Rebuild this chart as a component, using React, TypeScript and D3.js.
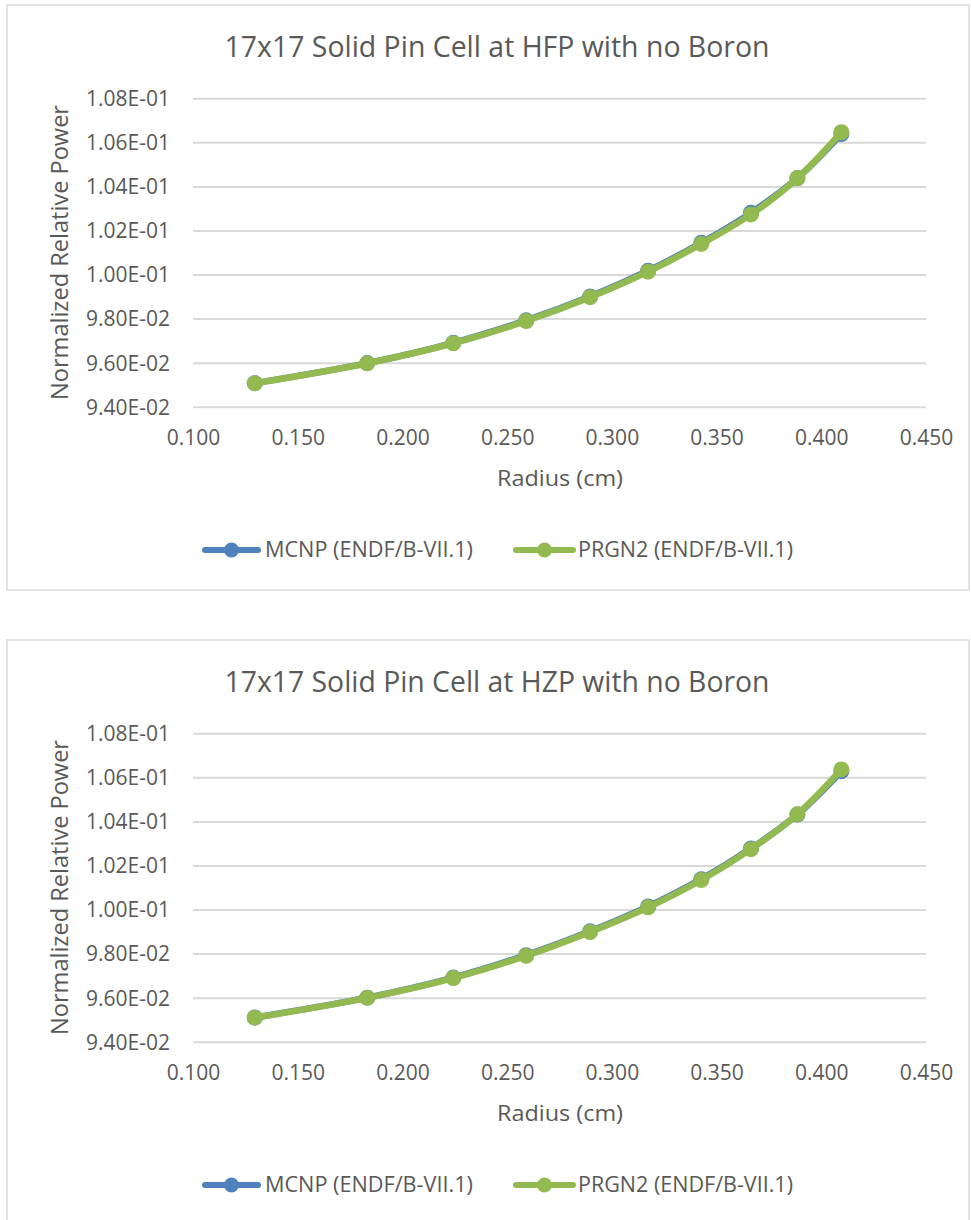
import React, { useEffect, useRef } from "react";
import * as d3 from "d3";

// ---- data ----
const radius = [0.1295, 0.1832, 0.2243, 0.2591, 0.2896, 0.3173, 0.3427, 0.3664, 0.3886, 0.4096];
const hfpMcnp = [0.09507, 0.09598, 0.0969, 0.09792, 0.099, 0.10017, 0.10144, 0.1028, 0.10438, 0.10638];
const hfpPrgn2 = [0.09506, 0.09597, 0.09688, 0.09789, 0.09897, 0.10013, 0.10139, 0.10273, 0.10437, 0.10646];
const hzpMcnp = [0.0951, 0.096, 0.09691, 0.09793, 0.09901, 0.10014, 0.10138, 0.10277, 0.10431, 0.10628];
const hzpPrgn2 = [0.09509, 0.09599, 0.09689, 0.0979, 0.09898, 0.1001, 0.10134, 0.10274, 0.10432, 0.10636];
const xTicks = [0.1, 0.15, 0.2, 0.25, 0.3, 0.35, 0.4, 0.45];
const yTicks = [0.094, 0.096, 0.098, 0.1, 0.102, 0.104, 0.106, 0.108];
const seriesNames = ["MCNP (ENDF/B-VII.1)", "PRGN2 (ENDF/B-VII.1)"];
const chartTitles = ["17x17 Solid Pin Cell at HFP with no Boron", "17x17 Solid Pin Cell at HZP with no Boron"];
const xTitle = "Radius (cm)";
const yTitle = "Normalized Relative Power";

const COLORS = ["#4F81BD", "#93BA50"];
const TEXT = "#595959";
const GRID = "#D9D9D9";
const FONT = "'Open Sans', 'Noto Sans', sans-serif";

function fmtE(v: number): string {
  const [m, e] = v.toExponential(2).split("e");
  const n = parseInt(e, 10);
  const sign = n < 0 ? "-" : "+";
  return `${m}E${sign}${String(Math.abs(n)).padStart(2, "0")}`;
}

export default function App() {
  const ref = useRef<SVGSVGElement | null>(null);

  useEffect(() => {
    const svg = d3.select(ref.current);
    svg.selectAll("*").remove();

    const charts = [
      { oy: 0, title: chartTitles[0], series: [hfpMcnp, hfpPrgn2], boxH: 585 },
      { oy: 635, title: chartTitles[1], series: [hzpMcnp, hzpPrgn2], boxH: 600 },
    ];

    charts.forEach((c) => {
      const g = svg.append("g");
      const oy = c.oy;
      g.append("rect")
        .attr("x", 7)
        .attr("y", oy + 5)
        .attr("width", 962)
        .attr("height", c.boxH)
        .attr("fill", "#fff")
        .attr("stroke", GRID)
        .attr("stroke-width", 1.5);

      const x = d3.scaleLinear().domain([0.1, 0.45]).range([193, 926]);
      const y = d3.scaleLinear().domain([0.094, 0.108]).range([oy + 406.7, oy + 98.3]);

      // title
      g.append("text")
        .attr("x", 497)
        .attr("y", oy + 57)
        .attr("text-anchor", "middle")
        .attr("font-family", FONT)
        .attr("font-size", 29)
        .attr("fill", TEXT)
        .attr("textLength", 545)
        .attr("lengthAdjust", "spacingAndGlyphs")
        .text(c.title);

      // y gridlines + labels
      const ya = d3
        .axisLeft(y)
        .tickValues(yTicks)
        .tickSize(-(926 - 193))
        .tickPadding(23)
        .tickFormat((d) => fmtE(d as number));
      const yg = g.append("g").attr("transform", `translate(193,0)`).call(ya);
      yg.select(".domain").remove();
      yg.selectAll(".tick line").attr("stroke", GRID).attr("stroke-width", 2);
      yg.selectAll(".tick text")
        .attr("font-family", FONT)
        .attr("font-size", 21)
        .attr("fill", TEXT)
        .attr("dy", "0.35em");

      // x labels
      const xa = d3
        .axisBottom(x)
        .tickValues(xTicks)
        .tickSize(0)
        .tickPadding(0)
        .tickFormat((d) => (d as number).toFixed(3));
      const xg = g.append("g").attr("transform", `translate(0,${oy + 438})`).call(xa);
      xg.select(".domain").remove();
      xg.selectAll(".tick text")
        .attr("font-family", FONT)
        .attr("font-size", 21)
        .attr("fill", TEXT)
        .attr("y", 0)
        .attr("dy", "0.35em");

      // axis titles
      g.append("text")
        .attr("x", 560)
        .attr("y", oy + 478)
        .attr("dy", "0.35em")
        .attr("text-anchor", "middle")
        .attr("font-family", FONT)
        .attr("font-size", 22)
        .attr("fill", TEXT)
        .attr("textLength", 126)
        .attr("lengthAdjust", "spacingAndGlyphs")
        .text(xTitle);
      g.append("text")
        .attr("transform", `translate(60,${oy + 252.5}) rotate(-90)`)
        .attr("dy", "0.35em")
        .attr("text-anchor", "middle")
        .attr("font-family", FONT)
        .attr("font-size", 23)
        .attr("fill", TEXT)
        .attr("textLength", 295)
        .attr("lengthAdjust", "spacingAndGlyphs")
        .text(yTitle);

      // series
      const line = d3
        .line<number>()
        .x((_, i) => x(radius[i]))
        .y((d) => y(d))
        .curve(d3.curveCatmullRom.alpha(0.5));
      c.series.forEach((vals, si) => {
        g.append("path")
          .attr("d", line(vals) as string)
          .attr("fill", "none")
          .attr("stroke", COLORS[si])
          .attr("stroke-width", 6.5)
          .attr("stroke-linejoin", "round")
          .attr("stroke-linecap", "round");
        g.selectAll(null)
          .data(vals)
          .enter()
          .append("circle")
          .attr("cx", (_, i) => x(radius[i]))
          .attr("cy", (d) => y(d))
          .attr("r", 8)
          .attr("fill", COLORS[si]);
      });

      // legend
      const legend = [
        { x0: 205, x1: 258, tx: 265, tw: 208 },
        { x0: 516, x1: 573, tx: 578, tw: 215 },
      ];
      legend.forEach((l, si) => {
        const ly = oy + 550;
        g.append("line")
          .attr("x1", l.x0)
          .attr("x2", l.x1)
          .attr("y1", ly)
          .attr("y2", ly)
          .attr("stroke", COLORS[si])
          .attr("stroke-width", 6)
          .attr("stroke-linecap", "round");
        g.append("circle")
          .attr("cx", (l.x0 + l.x1) / 2)
          .attr("cy", ly)
          .attr("r", 7.5)
          .attr("fill", COLORS[si]);
        g.append("text")
          .attr("x", l.tx)
          .attr("y", ly)
          .attr("dy", "0.35em")
          .attr("font-family", FONT)
          .attr("font-size", 21)
          .attr("fill", TEXT)
          .attr("textLength", l.tw)
          .attr("lengthAdjust", "spacingAndGlyphs")
          .text(seriesNames[si]);
      });
    });
  }, []);

  return (
    <svg
      ref={ref}
      width={971}
      height={1220}
      style={{ position: "absolute", left: 0, top: 0, background: "#fff" }}
    />
  );
}
